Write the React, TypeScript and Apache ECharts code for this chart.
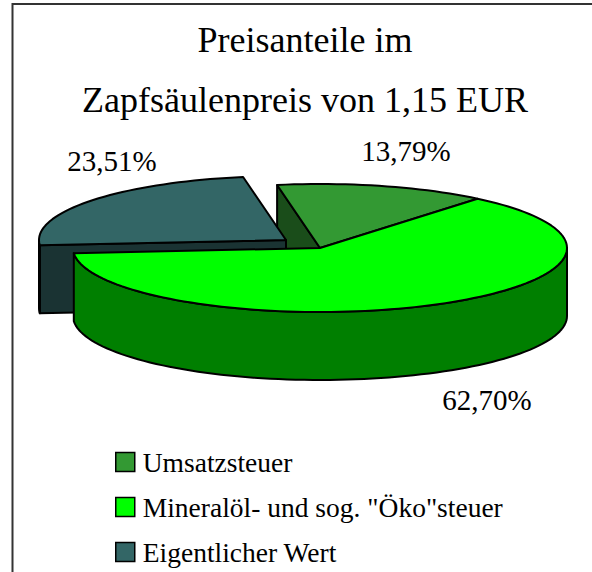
import React, { useEffect, useRef } from "react";
import * as echarts from "echarts";

const categories = ["Umsatzsteuer", 'Mineralöl- und sog. "Öko"steuer', "Eigentlicher Wert"];
const shares = [13.79, 62.7, 23.51];
const shareLabels = ["13,79%", "62,70%", "23,51%"];
const titleText = "Preisanteile im\nZapfsäulenpreis von 1,15 EUR";

const topColors = ["#339933", "#00ff00", "#336666"];
const wallColors = ["#1a4d1a", "#007f00", "#1a3333"];
const FONT = "Liberation Serif";
const CX = 320, CY = 248, RX = 247, RY = 64, H = 68;
const START_DEG = -10;
const offsets = [[0, 0], [0, 0], [-34, -8]];
const labelPos = [[406, 151], [487, 400], [112, 161]];
const drawOrder = [0, 2, 1];

function pt(deg: number, dx: number, dy: number, down = 0) {
  const r = (deg * Math.PI) / 180;
  return [CX + dx + RX * Math.sin(r), CY + dy - RY * Math.cos(r) + down];
}
function arcPts(a: number, b: number, dx: number, dy: number, down = 0) {
  const out: number[][] = [];
  const n = Math.max(2, Math.ceil(Math.abs(b - a) / 2));
  for (let i = 0; i <= n; i++) out.push(pt(a + ((b - a) * i) / n, dx, dy, down));
  return out;
}

function makeRender(index: number) {
  return (_p: any, api: any) => {
    const total = shares.reduce((s, v) => s + v, 0);
    let a0 = START_DEG;
    for (let i = 0; i < index; i++) a0 += (shares[i] / total) * 360;
    const a1 = a0 + (api.value(0) / total) * 360;
    const [dx, dy] = offsets[index];
    const stroke = { stroke: "#000", lineWidth: 2, lineJoin: "round" };
    const children: any[] = [];
    const apex = [CX + dx, CY + dy];
    const wall = (points: number[][]) =>
      children.push({ type: "polygon", shape: { points }, style: { fill: wallColors[index], ...stroke } });
    if (index === 0 || index === 2) {
      const s = pt(a0, dx, dy);
      wall([s, apex, [apex[0], apex[1] + H], [s[0], s[1] + H]]);
    }
    const fa = Math.max(a0, 90), fb = Math.min(a1, 270);
    if (fb > fa) {
      const top = arcPts(fa, fb, dx, dy);
      const bot = arcPts(fb, fa, dx, dy, H);
      wall([...top, ...bot]);
    }
    children.push({
      type: "polygon",
      shape: { points: [apex, ...arcPts(a0, a1, dx, dy)] },
      style: { fill: topColors[index], ...stroke },
    });
    children.push({
      type: "text",
      style: {
        x: labelPos[index][0],
        y: labelPos[index][1],
        text: shareLabels[index],
        fill: "#000",
        font: `29px "${FONT}"`,
        align: "center",
        verticalAlign: "middle",
      },
    });
    return { type: "group", children };
  };
}

export default function App() {
  const ref = useRef<HTMLDivElement>(null);
  useEffect(() => {
    const chart = echarts.init(ref.current!, null, { renderer: "svg" });
    chart.setOption({
      animation: false,
      backgroundColor: "#fff",
      title: {
        text: titleText,
        left: 300,
        top: 5,
        textAlign: "center",
        textStyle: { fontFamily: FONT, fontSize: 36, fontWeight: "normal", color: "#000", lineHeight: 60 },
      },
      legend: {
        orient: "vertical",
        left: 110,
        top: 443,
        icon: "rect",
        itemWidth: 19,
        itemHeight: 19,
        itemGap: 17,
        data: categories,
        selectedMode: false,
        textStyle: { fontFamily: FONT, fontSize: 27.5, color: "#000", padding: [0, 0, 0, 3] },
        itemStyle: { borderColor: "#000", borderWidth: 1.5 },
      },
      graphic: [
        {
          type: "polyline",
          silent: true,
          shape: { points: [[12.5, 572], [12.5, 4], [592, 4]] },
          style: { fill: "none", stroke: "#333", lineWidth: 2 },
        },
      ],
      series: drawOrder.map((i) => ({
        type: "custom",
        name: categories[i],
        coordinateSystem: "none",
        renderItem: makeRender(i),
        data: [[shares[i]]],
        itemStyle: { color: topColors[i] },
        silent: true,
        z: 2,
      })),
    });
    return () => chart.dispose();
  }, []);
  return <div ref={ref} style={{ position: "fixed", left: 0, top: 0, width: 592, height: 572 }} />;
}
